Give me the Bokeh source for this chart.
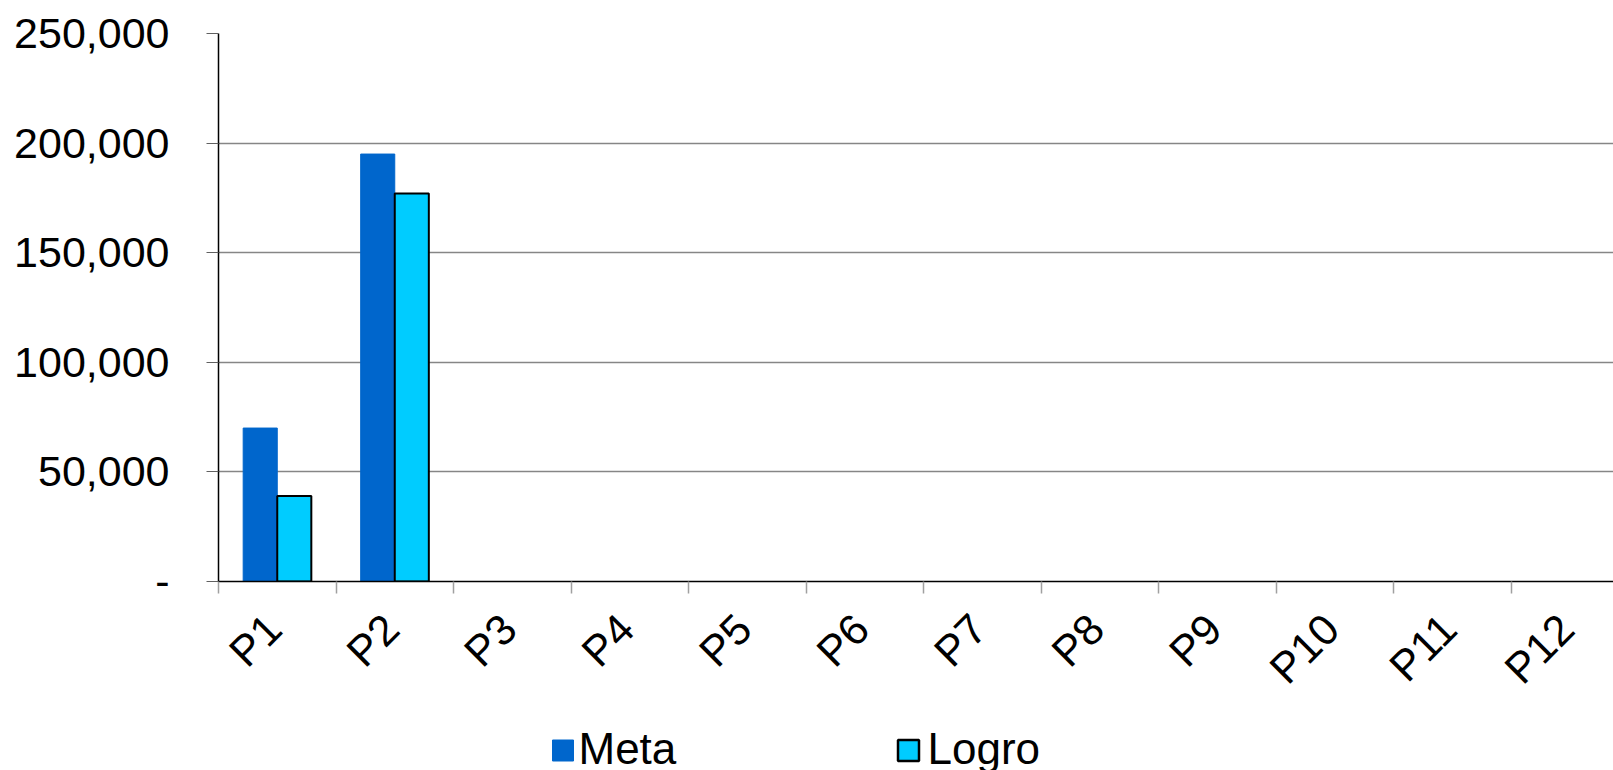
import math

from bokeh.core.properties import value
from bokeh.embed import file_html
from bokeh.layouts import column
from bokeh.models import (ColumnDataSource, FixedTicker, LinearAxis,
                          NumeralTickFormatter, Range1d)
from bokeh.plotting import figure
from bokeh.resources import INLINE

# Periods on the category axis and the two series (only P1 and P2 have data)
periods = ["P1", "P2", "P3", "P4", "P5", "P6", "P7", "P8", "P9", "P10", "P11", "P12"]
meta = [70000, 195000]
logro = [39000, 177000]
y_ticks = [0, 50000, 100000, 150000, 200000, 250000]
series_names = ["Meta", "Logro"]

FONT = "Liberation Sans"
FSIZE = "43px"
BAR_W = 0.29
LEFT = 218
META_STYLE = dict(fill_color="#0066CC", line_color="#0066CC", line_width=1)
LOGRO_STYLE = dict(fill_color="#00CCFF", line_color="black", line_width=2)

p = figure(
    width=1613, height=712,
    output_backend="svg", toolbar_location=None,
    x_range=Range1d(0, 11.872), y_range=Range1d(0, 250000),
    x_axis_location=None,
    min_border_left=LEFT, min_border_right=0, min_border_top=33, min_border_bottom=130,
)
p.outline_line_color = None
p.background_fill_color = "white"
p.border_fill_color = "white"

# bars: each period occupies one unit on the x axis
meta_src = ColumnDataSource(dict(x=[i + 0.5 - BAR_W / 2 for i in range(len(meta))], top=meta))
logro_src = ColumnDataSource(dict(x=[i + 0.5 + BAR_W / 2 for i in range(len(logro))], top=logro))

p.vbar(x="x", top="top", bottom=0, width=BAR_W, source=meta_src, **META_STYLE)
p.vbar(x="x", top="top", bottom=0, width=BAR_W, source=logro_src, **LOGRO_STYLE)

# y axis
yax = p.yaxis[0]
yax.ticker = FixedTicker(ticks=y_ticks)
yax.formatter = NumeralTickFormatter(format="0,0")
yax.major_label_overrides = {0: "-"}
yax.major_label_text_font = FONT
yax.major_label_text_font_size = FSIZE
yax.major_label_text_color = "black"
yax.major_label_standoff = 37
yax.major_tick_out = 12
yax.major_tick_in = 0
yax.major_tick_line_color = "#606060"
yax.minor_tick_line_color = None
yax.axis_line_color = "black"
yax.axis_line_width = 1.5

p.ygrid.ticker = FixedTicker(ticks=y_ticks[1:])
p.ygrid.grid_line_color = "#868686"
p.ygrid.grid_line_width = 1.5
p.xgrid.grid_line_color = None

# x axis: boundary tick marks between periods
tick_axis = LinearAxis(
    ticker=FixedTicker(ticks=list(range(len(periods) + 1))),
    major_label_overrides={i: "" for i in range(len(periods) + 1)},
    major_label_text_font_size="0px",
    major_label_standoff=0,
    major_tick_out=12, major_tick_in=0,
    major_tick_line_color="#A0A0A0", major_tick_line_width=1.5,
    minor_tick_line_color=None,
    axis_line_color="black", axis_line_width=1.5,
)
p.add_layout(tick_axis, "below")

# x axis: rotated period labels, ending just right of each period's centre
label_pos = [i + 0.47 for i in range(len(periods))]
label_axis = LinearAxis(
    ticker=FixedTicker(ticks=label_pos),
    major_label_overrides={c: name for c, name in zip(label_pos, periods)},
    major_label_orientation=math.pi / 4,
    major_label_text_font=FONT,
    major_label_text_font_size=FSIZE,
    major_label_text_color="black",
    major_label_standoff=28,
    major_tick_out=0, major_tick_in=0,
    major_tick_line_color=None,
    minor_tick_line_color=None,
    axis_line_color=None,
)
p.add_layout(label_axis, "below")

# legend strip under the chart, in page pixel units (x from the page's left, y up from the bottom)
lg = figure(
    width=1613, height=58,
    output_backend="svg", toolbar_location=None,
    x_range=Range1d(LEFT, 1613), y_range=Range1d(0, 58),
    x_axis_location=None, y_axis_location=None,
    min_border=0, min_border_left=LEFT,
)
lg.outline_line_color = None
lg.grid.visible = False

key_x = [562.5, 908]
key_style = [META_STYLE, dict(LOGRO_STYLE, line_width=2.5)]
for kx, style in zip(key_x, key_style):
    lg.rect(x=kx, y=20, width=21, height=21, **style)
lg.text(x=[578, 927], y=[22, 22], text=series_names,
        text_font=value(FONT), text_font_size="44px", text_color="black",
        text_baseline="alphabetic", text_align="left")

open("out.html", "w").write(file_html(column(p, lg, spacing=0), INLINE))
